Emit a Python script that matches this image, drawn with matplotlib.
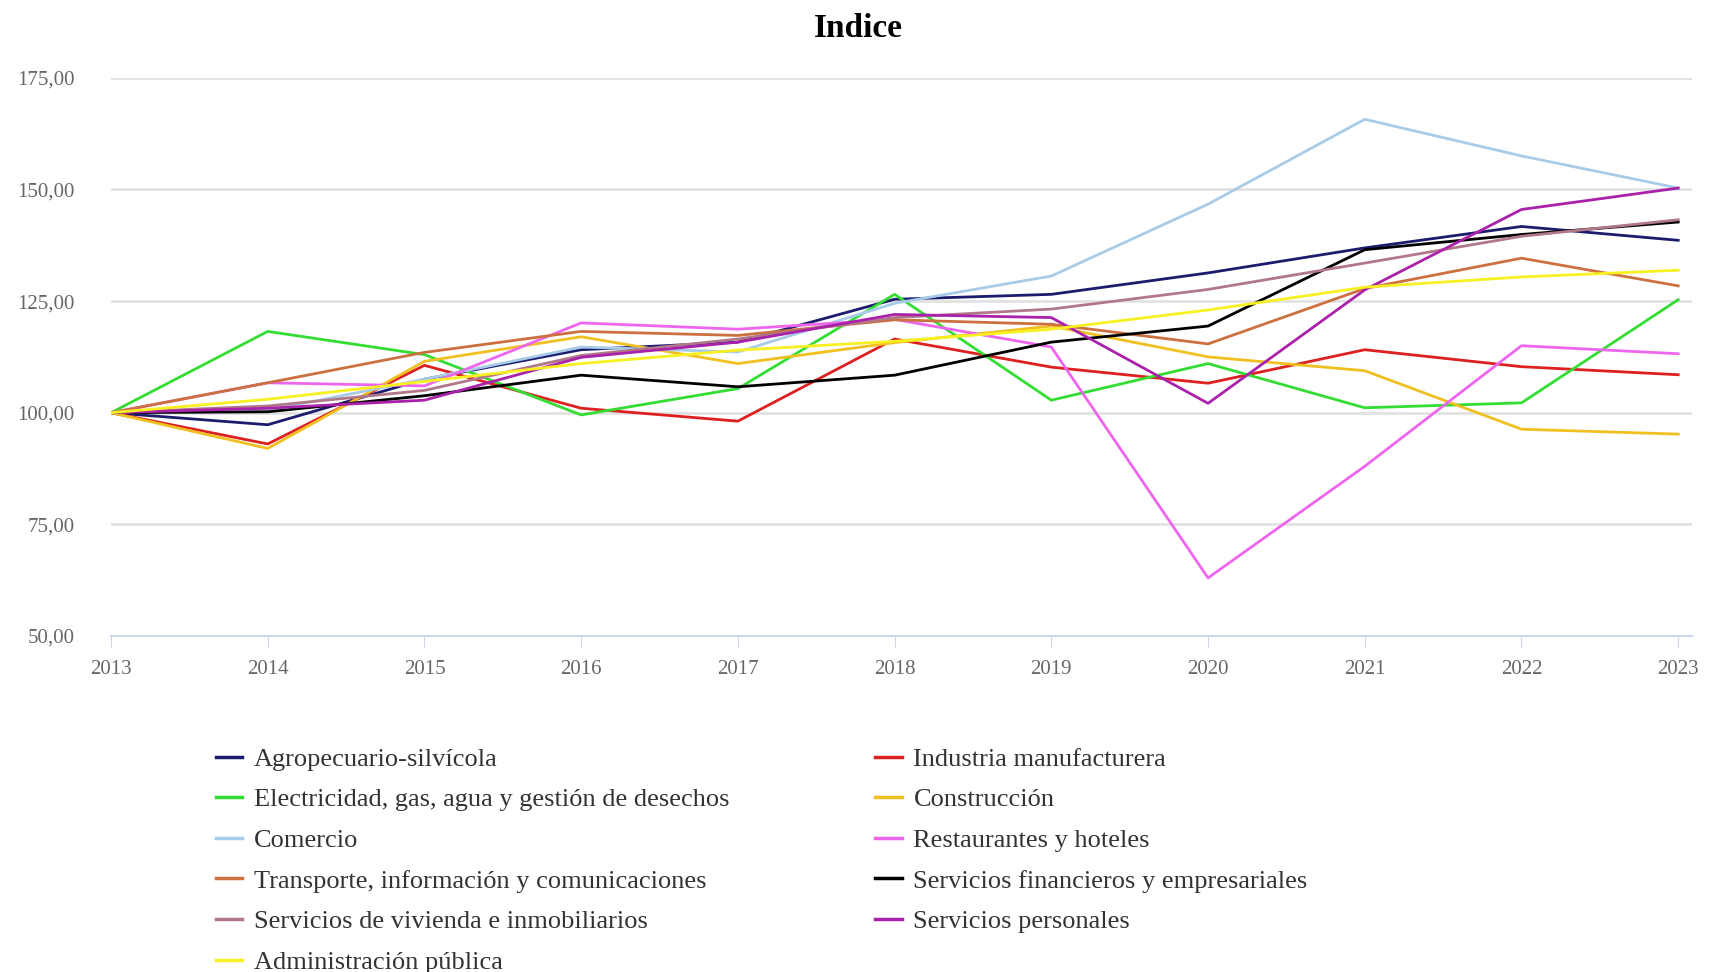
import matplotlib.pyplot as plt
from matplotlib.ticker import FuncFormatter

years = [2013, 2014, 2015, 2016, 2017, 2018, 2019, 2020, 2021, 2022, 2023]

agropecuario = [100, 97.3, 107.5, 114.1, 115.8, 125.4, 126.5, 131.3, 136.9, 141.7, 138.6]
industria = [100, 93.0, 110.6, 101.0, 98.1, 116.5, 110.2, 106.6, 114.1, 110.3, 108.5]
electricidad = [100, 118.2, 113.0, 99.5, 105.4, 126.5, 102.8, 111.0, 101.1, 102.2, 125.3]
construccion = [100, 92.0, 111.5, 117.0, 111.0, 115.7, 119.4, 112.5, 109.4, 96.3, 95.2]
comercio = [100, 100.5, 107.5, 114.7, 113.6, 124.5, 130.6, 146.7, 165.7, 157.5, 150.3]
restaurantes = [100, 106.7, 106.0, 120.1, 118.7, 120.9, 114.7, 63.0, 88.0, 115.0, 113.2]
transporte = [100, 106.7, 113.5, 118.2, 117.3, 120.8, 119.8, 115.4, 127.8, 134.6, 128.4]
financieros = [100, 100.2, 103.8, 108.4, 105.8, 108.4, 115.8, 119.4, 136.5, 139.9, 142.7]
vivienda = [100, 101.5, 105.0, 112.8, 116.5, 121.3, 123.2, 127.6, 133.5, 139.5, 143.2]
personales = [100, 101.0, 102.8, 112.4, 115.8, 122.0, 121.3, 102.1, 127.5, 145.5, 150.3]
administracion = [100, 103.0, 107.0, 111.0, 114.0, 116.0, 118.7, 123.0, 128.1, 130.4, 131.9]

series = [
    ("Agropecuario-silvícola", agropecuario, "#1c1c6e"),
    ("Industria manufacturera", industria, "#dd2020"),
    ("Electricidad, gas, agua y gestión de desechos", electricidad, "#33dd33"),
    ("Construcción", construccion, "#f0c020"),
    ("Comercio", comercio, "#a8cce8"),
    ("Restaurantes y hoteles", restaurantes, "#ee66ee"),
    ("Transporte, información y comunicaciones", transporte, "#cc7040"),
    ("Servicios financieros y empresariales", financieros, "#000000"),
    ("Servicios de vivienda e inmobiliarios", vivienda, "#b07888"),
    ("Servicios personales", personales, "#aa22aa"),
    ("Administración pública", administracion, "#f8f020"),
]

plt.rcParams['font.family'] = ['Liberation Serif', 'DejaVu Serif']

fig = plt.figure(figsize=(17.16, 9.72), dpi=100)
ax = fig.add_axes([0.0647, 0.3457, 0.9215, 0.5743])

handles = []
for name, vals, col in series:
    h, = ax.plot(years, vals, color=col, lw=2.0, label=name)
    handles.append(h)

ax.set_xlim(2013, 2023.09)
ax.set_ylim(50, 175)
ax.set_yticks([50, 75, 100, 125, 150, 175])
ax.set_xticks(years)
ax.yaxis.set_major_formatter(FuncFormatter(lambda v, p: f"{v:.2f}".replace(".", ",")))
ax.grid(axis='y', color='#e2e2e2', lw=2)
ax.set_axisbelow(True)
for s in ['top', 'right', 'left']:
    ax.spines[s].set_visible(False)
ax.spines['bottom'].set_color('#ccd6eb')
ax.spines['bottom'].set_linewidth(1.5)
ax.tick_params(axis='x', colors='#666666', labelsize=15, length=8, color='#ccd6eb', pad=9)
ax.tick_params(axis='y', colors='#666666', labelsize=15, length=0, pad=26)

fig.suptitle("Indice", fontsize=24, fontweight='bold', y=0.987)

# two separate legends so the rows line up left to right like the original
left = [0, 2, 4, 6, 8, 10]
right = [1, 3, 5, 7, 9]
leg_kw = dict(loc='upper left', frameon=False, fontsize=19, handlelength=1.0,
              handletextpad=0.45, labelspacing=0.65, borderpad=0, borderaxespad=0)
leg1 = fig.legend([handles[i] for i in left], [series[i][0] for i in left],
                  bbox_to_anchor=(0.1256, 0.2312), **leg_kw)
leg2 = fig.legend([handles[i] for i in right], [series[i][0] for i in right],
                  bbox_to_anchor=(0.510, 0.2312), **leg_kw)
for lg in (leg1, leg2):
    for t in lg.get_texts():
        t.set_color('#333333')
    for l in lg.get_lines():
        l.set_linewidth(2.5)

fig.savefig("out.png", dpi=100)
